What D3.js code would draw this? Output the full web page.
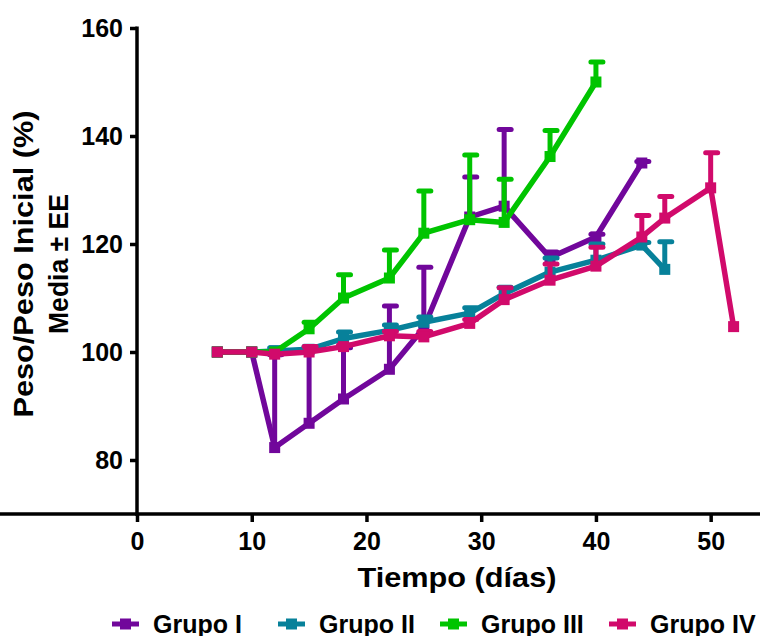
<!DOCTYPE html>
<html><head><meta charset="utf-8">
<script src="https://cdn.jsdelivr.net/npm/d3@7"></script>
<style>body{margin:0;background:#fff}svg{display:block}text{font-family:"Liberation Sans",Arial,sans-serif;font-weight:bold}</style>
</head><body><svg id="c" width="760" height="636"></svg>
<script>
const groups = ["Grupo I","Grupo II","Grupo III","Grupo IV"];
const colors = ["#71079b","#07819a","#00c400","#d10a6b"];
const daysI = [7,10,12,15,18,22,25,29,32,36,40,44];
const meanI = [100,100,82.3,86.8,91.3,96.8,104.5,125,127,117.5,121.3,135];
const errI  = [0,0,17.2,13.6,9.5,11.7,11.2,7.4,14.2,1,0.5,0.3];
const daysII = [7,10,12,15,18,22,25,29,32,36,40,44,46];
const meanII = [100,100,100.2,100.5,102.5,104,105.5,107.2,110.8,114.8,117,119.8,115.3];
const errII  = [0,0,0.6,0.5,1.2,1,1,1,1.2,2.6,3,0.5,5.1];
const daysIII = [7,10,12,15,18,22,25,29,32,36,40];
const meanIII = [100,100,100,104.3,110,113.7,122,124.5,124,136.2,150];
const errIII  = [0,0,0,1.2,4.3,5.2,7.8,12,8,4.8,3.7];
const daysIV = [7,10,12,15,18,22,25,29,32,36,40,44,46,50,52];
const meanIV = [100,100,99.6,100,101,103,102.8,105.3,109.7,113.3,115.9,121.3,124.8,130.4,104.7];
const errIV  = [0,0,0,1,0.3,0.8,1,0.7,2.2,3,3.5,4,4,6.5,0];
const xTicks = [0,10,20,30,40,50];
const yTicks = [80,100,120,140,160];

const series = [
  {days:daysI, mean:meanI, err:errI},
  {days:daysII, mean:meanII, err:errII},
  {days:daysIII, mean:meanIII, err:errIII},
  {days:daysIV, mean:meanIV, err:errIV}
];

const svg = d3.select("#c");
const x = d3.scaleLinear().domain([0,54.3]).range([137,760]);
const y = d3.scaleLinear().domain([70,160]).range([514,28]);

const xAxis = svg.append("g").attr("transform","translate(0,514)")
  .call(d3.axisBottom(x).tickValues(xTicks).tickSize(8).tickSizeOuter(0).tickPadding(10));
const yAxis = svg.append("g").attr("transform","translate(137,0)")
  .call(d3.axisLeft(y).tickValues(yTicks).tickSize(7).tickSizeOuter(0).tickPadding(7));
[xAxis,yAxis].forEach(g=>{
  g.attr("font-size",null).attr("font-family",null);
  g.select(".domain").attr("stroke","#000").attr("stroke-width",3.5);
  g.selectAll(".tick line").attr("stroke","#000").attr("stroke-width",3.5);
  g.selectAll(".tick text").attr("fill","#000").style("font-size","25px").style("font-family","'Liberation Sans',Arial,sans-serif").style("font-weight","bold");
});
yAxis.select(".domain").attr("d", `M0,${y(160)-1.5}V${516}`);
xAxis.select(".domain").attr("d", `M-1.5,0H${x(54.3)}`);

svg.append("text").attr("x",457).attr("y",587).attr("text-anchor","middle").style("font-size","28px")
  .attr("textLength",199).attr("lengthAdjust","spacingAndGlyphs").text("Tiempo (días)");
svg.append("text").attr("transform","translate(33,264) rotate(-90)").attr("text-anchor","middle").style("font-size","28px")
  .attr("textLength",307).attr("lengthAdjust","spacingAndGlyphs").text("Peso/Peso Inicial (%)");
svg.append("text").attr("transform","translate(68,264) rotate(-90)").attr("text-anchor","middle").style("font-size","28px")
  .attr("textLength",140).attr("lengthAdjust","spacingAndGlyphs").text("Media ± EE");

const line = d3.line().x(d=>x(d.d)).y(d=>y(d.m));
const ms = 11;
series.forEach((s,i)=>{
  const pts = s.days.map((d,j)=>({d, m:s.mean[j], e:s.err[j]}));
  const g = svg.append("g");
  g.selectAll("line.eb").data(pts.filter(p=>p.e>0)).join("line")
    .attr("x1",p=>x(p.d)).attr("x2",p=>x(p.d)).attr("y1",p=>y(p.m)).attr("y2",p=>y(p.m+p.e))
    .attr("stroke",colors[i]).attr("stroke-width",5);
  g.selectAll("line.cap").data(pts.filter(p=>p.e>0)).join("line")
    .attr("x1",p=>x(p.d)-5).attr("x2",p=>x(p.d)+7).attr("y1",p=>y(p.m+p.e)).attr("y2",p=>y(p.m+p.e))
    .attr("stroke",colors[i]).attr("stroke-width",5).attr("stroke-linecap","round");
  g.append("path").datum(pts).attr("d",line).attr("fill","none").attr("stroke",colors[i]).attr("stroke-width",5.5).attr("stroke-linejoin","round");
  g.selectAll("rect").data(pts).join("rect")
    .attr("x",p=>x(p.d)-ms/2).attr("y",p=>y(p.m)-ms/2).attr("width",ms).attr("height",ms).attr("fill",colors[i]);
});

const legX = [112,278,440,609];
groups.forEach((gname,i)=>{
  const g = svg.append("g").attr("transform",`translate(${legX[i]},624)`);
  g.append("line").attr("x1",0).attr("x2",27).attr("y1",0).attr("y2",0).attr("stroke",colors[i]).attr("stroke-width",5);
  g.append("rect").attr("x",13.5-ms/2).attr("y",-ms/2).attr("width",ms).attr("height",ms).attr("fill",colors[i]);
  g.append("text").attr("x",41).attr("y",8.5).style("font-size","25px").attr("fill","#000").text(gname);
});
</script></body></html>
